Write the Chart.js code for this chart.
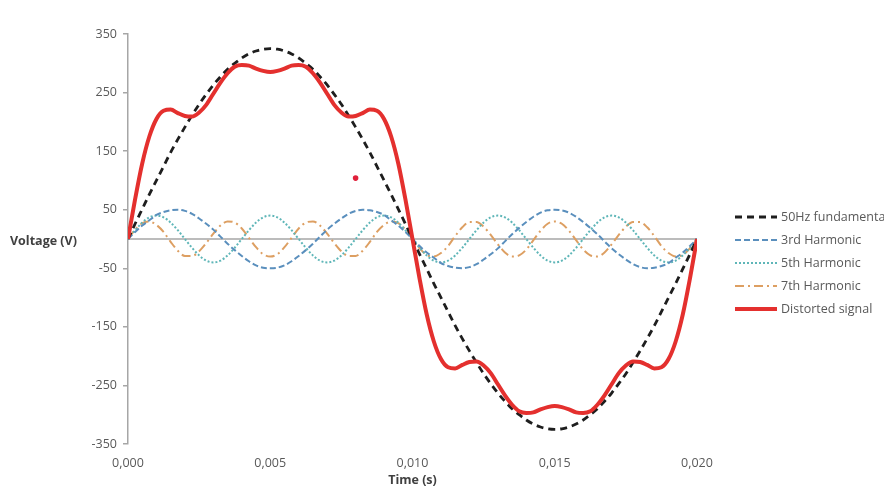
<!DOCTYPE html>
<html>
<head>
<meta charset="utf-8">
<title>Distorted signal – harmonics</title>
<script src="https://cdn.jsdelivr.net/npm/chart.js@4.4.1/dist/chart.umd.min.js"></script>
<style>
  html, body { margin: 0; padding: 0; background: #fff; }
</style>
</head>
<body>
<canvas id="waveChart" width="884" height="490"></canvas>
<script>
// values, one sample every 0.25 ms
const timeS = [
  0, 0.00025, 0.0005, 0.00075, 0.001, 0.00125, 0.0015, 0.00175, 0.002, 0.00225, 0.0025, 0.00275, 0.003, 0.00325, 0.0035, 0.00375, 0.004, 0.00425, 0.0045, 0.00475, 0.005,
  0.00525, 0.0055, 0.00575, 0.006, 0.00625, 0.0065, 0.00675, 0.007, 0.00725, 0.0075, 0.00775, 0.008, 0.00825, 0.0085, 0.00875, 0.009, 0.00925, 0.0095, 0.00975, 0.01,
  0.01025, 0.0105, 0.01075, 0.011, 0.01125, 0.0115, 0.01175, 0.012, 0.01225, 0.0125, 0.01275, 0.013, 0.01325, 0.0135, 0.01375, 0.014, 0.01425, 0.0145, 0.01475, 0.015,
  0.01525, 0.0155, 0.01575, 0.016, 0.01625, 0.0165, 0.01675, 0.017, 0.01725, 0.0175, 0.01775, 0.018, 0.01825, 0.0185, 0.01875, 0.019, 0.01925, 0.0195, 0.01975, 0.02
];
const fundamental = [
  0, 26, 51, 76, 100, 124, 148, 170, 191, 211, 230, 247, 263, 277, 290, 300, 309, 316, 321, 324, 325,
  324, 321, 316, 309, 300, 290, 277, 263, 247, 230, 211, 191, 170, 148, 124, 100, 76, 51, 26, 0,
  -26, -51, -76, -100, -124, -148, -170, -191, -211, -230, -247, -263, -277, -290, -300, -309, -316, -321, -324, -325,
  -324, -321, -316, -309, -300, -290, -277, -263, -247, -230, -211, -191, -170, -148, -124, -100, -76, -51, -26, 0
];
const harmonic3 = [
  0, 12, 23, 32, 41, 46, 49, 50, 48, 43, 35, 26, 16, 4, -8, -19, -29, -38, -45, -49, -50,
  -49, -45, -38, -29, -19, -8, 4, 16, 26, 35, 43, 48, 50, 49, 46, 41, 32, 23, 12, 0,
  -12, -23, -32, -41, -46, -49, -50, -48, -43, -35, -26, -16, -4, 8, 19, 29, 38, 45, 49, 50,
  49, 45, 38, 29, 19, 8, -4, -16, -26, -35, -43, -48, -50, -49, -46, -41, -32, -23, -12, 0
];
const harmonic5 = [
  0, 15, 28, 37, 40, 37, 28, 15, 0, -15, -28, -37, -40, -37, -28, -15, 0, 15, 28, 37, 40,
  37, 28, 15, 0, -15, -28, -37, -40, -37, -28, -15, 0, 15, 28, 37, 40, 37, 28, 15, 0,
  -15, -28, -37, -40, -37, -28, -15, 0, 15, 28, 37, 40, 37, 28, 15, 0, -15, -28, -37, -40,
  -37, -28, -15, 0, 15, 28, 37, 40, 37, 28, 15, 0, -15, -28, -37, -40, -37, -28, -15, 0
];
const harmonic7 = [
  0, 16, 27, 30, 24, 12, -5, -20, -29, -29, -21, -7, 9, 23, 30, 28, 18, 2, -14, -26, -30,
  -26, -14, 2, 18, 28, 30, 23, 9, -7, -21, -29, -29, -20, -5, 12, 24, 30, 27, 16, 0,
  -16, -27, -30, -24, -12, 5, 20, 29, 29, 21, 7, -9, -23, -30, -28, -18, -2, 14, 26, 30,
  26, 14, -2, -18, -28, -30, -23, -9, 7, 21, 29, 29, 20, 5, -12, -24, -30, -27, -16, 0
];
const distorted = [
  0, 68, 129, 175, 205, 219, 221, 215, 210, 209, 216, 229, 248, 267, 283, 294, 297, 296, 291, 287, 285,
  287, 291, 296, 297, 294, 283, 267, 248, 229, 216, 209, 210, 215, 221, 219, 205, 175, 129, 68, 0,
  -68, -129, -175, -205, -219, -221, -215, -210, -209, -216, -229, -248, -267, -283, -294, -297, -296, -291, -287, -285,
  -287, -291, -296, -297, -294, -283, -267, -248, -229, -216, -209, -210, -215, -221, -219, -205, -175, -129, -68, 0
];
const seriesNames = ['50Hz fundamental', '3rd Harmonic', '5th Harmonic', '7th Harmonic', 'Distorted signal'];
const yTicks = [-350, -250, -150, -50, 50, 150, 250, 350];
const xTicks = [0, 0.005, 0.010, 0.015, 0.020];
const zeroLine = [{ x: 0, y: 0 }, { x: 0.02, y: 0 }];
const strayDot = [{ x: 0.0080, y: 104 }];

const WAVES = (() => {
  const FONT = '"Open Sans", "DejaVu Sans", sans-serif';
  const TXT = '#595959';
  const AXIS = '#a6a6a6';

  const pts = vals => vals.map((v, i) => ({ x: timeS[i], y: v }));

  function lineSet(i, vals, color, width, dash, order) {
    return {
      label: seriesNames[i], data: pts(vals), legendRow: i, order,
      borderColor: color, backgroundColor: color, borderWidth: width, borderDash: dash,
      pointRadius: 0, fill: false, cubicInterpolationMode: 'monotone',
    };
  }

  // ── side legend + horizontal y title (Excel style) ─────────
  const sideLegend = {
    id: 'sideLegend',
    afterDraw(chart) {
      const ctx = chart.ctx;
      ctx.save();
      chart.data.datasets.forEach(ds => {
        if (ds.legendRow == null) return;
        const y = 217 + ds.legendRow * 23;
        ctx.strokeStyle = ds.borderColor;
        ctx.lineWidth = ds.borderWidth;
        ctx.setLineDash(ds.borderDash || []);
        ctx.beginPath(); ctx.moveTo(735, y); ctx.lineTo(777, y); ctx.stroke();
        ctx.setLineDash([]);
        ctx.fillStyle = TXT;
        ctx.font = '12.5px ' + FONT;
        ctx.textAlign = 'left'; ctx.textBaseline = 'middle';
        ctx.fillText(ds.label, 781, y);
      });
      ctx.font = 'bold 12.5px ' + FONT;
      ctx.fillStyle = '#404040';
      ctx.textAlign = 'left'; ctx.textBaseline = 'middle';
      ctx.fillText('Voltage (V)', 10, chart.scales.y.getPixelForValue(0) + 2);
      ctx.restore();
    }
  };

  function init() {
    const ctx = document.getElementById('waveChart').getContext('2d');
    new Chart(ctx, {
      type: 'line',
      data: {
        datasets: [
          lineSet(0, fundamental, '#1e1e1e', 2.8, [7, 5], 2),
          lineSet(1, harmonic3, '#5a8fbd', 2, [6, 3], 3),
          lineSet(2, harmonic5, '#5fb6b8', 2, [2, 2], 4),
          lineSet(3, harmonic7, '#dd9f62', 2, [9, 4, 2, 4], 5),
          lineSet(4, distorted, '#e4302e', 4, [], 0),
          { label: 'zero', data: zeroLine, borderColor: AXIS, borderWidth: 1.5, pointRadius: 0, order: 9 },
          { type: 'scatter', label: 'dot', data: strayDot, backgroundColor: '#e0203a', borderWidth: 0, pointRadius: 2.8, order: 1 },
        ]
      },
      options: {
        responsive: false, animation: false,
        layout: { padding: { top: 34, right: 187, bottom: 0, left: 0 } },
        plugins: { legend: { display: false }, tooltip: { enabled: false } },
        scales: {
          x: {
            type: 'linear', min: 0, max: 0.02,
            afterBuildTicks: s => { s.ticks = xTicks.map(v => ({ value: v })); },
            afterFit: s => { s.height = 46; },
            border: { display: false },
            grid: { display: false, drawTicks: false },
            ticks: { padding: 12, color: TXT, font: { family: FONT, size: 12.5 },
                     callback: v => v.toFixed(3).replace('.', ','), maxRotation: 0 },
            title: { display: true, text: 'Time (s)', color: '#404040',
                     font: { family: FONT, size: 12.5, weight: 'bold' }, padding: { top: 0, bottom: 2 } }
          },
          y: {
            min: -350, max: 350,
            afterBuildTicks: s => { s.ticks = yTicks.map(v => ({ value: v })); },
            afterFit: s => { s.width = 128; },
            border: { display: true, color: AXIS, width: 1.5 },
            grid: { drawOnChartArea: false, drawTicks: true, tickLength: 5, color: AXIS, lineWidth: 1.5 },
            ticks: { padding: 6, color: TXT, font: { family: FONT, size: 12.5 } }
          }
        }
      },
      plugins: [sideLegend]
    });
  }

  return { init };
})();

WAVES.init();
</script>
</body>
</html>
